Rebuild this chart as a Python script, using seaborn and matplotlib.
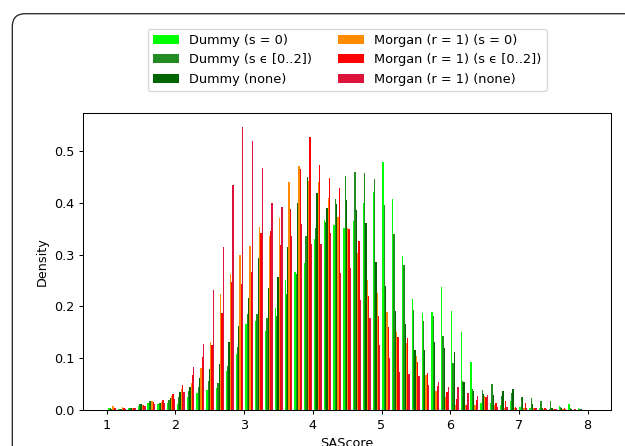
import numpy as np
import pandas as pd
import matplotlib
matplotlib.use("Agg")
import matplotlib.pyplot as plt
from matplotlib.patches import FancyBboxPatch
import seaborn as sns

# ---- data (density per bin) ----
bin_count = 49
bin_range = (1.01, 7.99)

series_names = ["Dummy (s = 0)", "Dummy (s \u03f5 [0..2])", "Dummy (none)",
                "Morgan (r = 1) (s = 0)", "Morgan (r = 1) (s \u03f5 [0..2])",
                "Morgan (r = 1) (none)"]
series_colors = ["lime", "forestgreen", "darkgreen", "darkorange", "red", "crimson"]

dummy_s0 = [0.004, 0.002, 0.003, 0.008, 0.013, 0.012, 0.014, 0.012, 0.025, 0.032,
            0.039, 0.042, 0.076, 0.108, 0.166, 0.171, 0.152, 0.197, 0.251, 0.267,
            0.284, 0.330, 0.368, 0.358, 0.351, 0.366, 0.400, 0.421, 0.480, 0.407,
            0.297, 0.214, 0.187, 0.189, 0.238, 0.192, 0.150, 0.092, 0.014, 0.013,
            0.010, 0.018, 0.006, 0.004, 0.003, 0.002, 0.008, 0.012, 0.003]
dummy_s02 = [0.004, 0.001, 0.004, 0.011, 0.017, 0.013, 0.019, 0.026, 0.036, 0.045,
             0.056, 0.052, 0.085, 0.121, 0.186, 0.186, 0.178, 0.181, 0.225, 0.262,
             0.337, 0.351, 0.363, 0.408, 0.452, 0.460, 0.457, 0.446, 0.397, 0.340,
             0.281, 0.194, 0.171, 0.182, 0.143, 0.090, 0.057, 0.040, 0.039, 0.050,
             0.027, 0.032, 0.025, 0.023, 0.018, 0.018, 0.006, 0.004, 0.002]
dummy_none = [0.002, 0.001, 0.003, 0.011, 0.018, 0.014, 0.024, 0.034, 0.045, 0.061,
              0.079, 0.089, 0.132, 0.163, 0.216, 0.293, 0.236, 0.256, 0.314, 0.399,
              0.450, 0.419, 0.390, 0.398, 0.406, 0.386, 0.362, 0.286, 0.240, 0.192,
              0.166, 0.116, 0.116, 0.132, 0.120, 0.113, 0.055, 0.037, 0.031, 0.029,
              0.037, 0.040, 0.025, 0.012, 0.004, 0.004, 0.003, 0.002, 0.001]
morgan_s0 = [0.007, 0.006, 0.004, 0.009, 0.017, 0.015, 0.027, 0.040, 0.052, 0.082,
             0.131, 0.225, 0.263, 0.300, 0.317, 0.354, 0.336, 0.371, 0.440, 0.472,
             0.443, 0.440, 0.410, 0.372, 0.352, 0.304, 0.252, 0.226, 0.189, 0.150,
             0.129, 0.105, 0.068, 0.037, 0.025, 0.010, 0.010, 0.010, 0.027, 0.010,
             0.003, 0.004, 0.003, 0.003, 0.002, 0.001, 0.001, 0.000, 0.000]
morgan_s02 = [0.0045, 0.003, 0.004, 0.010, 0.016, 0.020, 0.030, 0.049, 0.068, 0.103,
              0.125, 0.187, 0.247, 0.244, 0.267, 0.342, 0.346, 0.318, 0.389, 0.465,
              0.527, 0.474, 0.448, 0.428, 0.350, 0.326, 0.220, 0.181, 0.161, 0.142,
              0.140, 0.092, 0.071, 0.047, 0.034, 0.021, 0.010, 0.019, 0.025, 0.013,
              0.018, 0.006, 0.013, 0.004, 0.003, 0.002, 0.004, 0.001, 0.000]
morgan_none = [0.003, 0.002, 0.004, 0.007, 0.012, 0.013, 0.022, 0.035, 0.084, 0.128,
               0.232, 0.315, 0.435, 0.547, 0.520, 0.468, 0.400, 0.393, 0.337, 0.359,
               0.320, 0.320, 0.342, 0.264, 0.275, 0.213, 0.178, 0.126, 0.100, 0.073,
               0.069, 0.065, 0.048, 0.055, 0.044, 0.045, 0.032, 0.027, 0.029, 0.006,
               0.005, 0.003, 0.003, 0.003, 0.002, 0.001, 0.002, 0.001, 0.000]

all_values = [dummy_s0, dummy_s02, dummy_none, morgan_s0, morgan_s02, morgan_none]

x_ticks = [1, 2, 3, 4, 5, 6, 7, 8]
y_ticks = [0.0, 0.1, 0.2, 0.3, 0.4, 0.5]

# ---- build long table ----
edges = np.linspace(bin_range[0], bin_range[1], bin_count + 1)
centers = (edges[:-1] + edges[1:]) / 2
df = pd.DataFrame({
    "SAScore": np.tile(centers, len(series_names)),
    "weight": np.concatenate([np.asarray(v, float) for v in all_values]),
    "series": np.repeat(series_names, len(centers)),
})

DPI = 92
fig = plt.figure(figsize=(625 / DPI, 446 / DPI), dpi=DPI)
ax = fig.add_axes([0.1333, 0.0807, 0.8443, 0.6666])

sns.histplot(data=df, x="SAScore", weights="weight", hue="series",
             hue_order=series_names, palette=series_colors,
             bins=bin_count, binrange=bin_range,
             multiple="dodge", shrink=0.8, stat="count", alpha=1,
             linewidth=0, edgecolor="none", ax=ax)

ax.set_ylabel("Density")
ax.set_xlabel("SAScore")
ax.set_xticks(x_ticks)
ax.set_yticks(y_ticks)
ax.set_xlim(0.66, 8.34)

sns.move_legend(ax, "lower center", bbox_to_anchor=(0.5, 1.073), ncol=2,
                title=None, borderaxespad=0, frameon=True, fontsize=10.1)

# rounded outer frame (image is a crop of a larger framed figure)
frame = FancyBboxPatch((12.3 / DPI, -1.0), 20, (446 - 13.7) / DPI + 1.0,
                       boxstyle="round,pad=0,rounding_size=%f" % (13 / DPI),
                       transform=fig.dpi_scale_trans, facecolor="none",
                       edgecolor="#222222", linewidth=1.0, clip_on=False)
fig.add_artist(frame)

fig.savefig("out.png", dpi=DPI)
